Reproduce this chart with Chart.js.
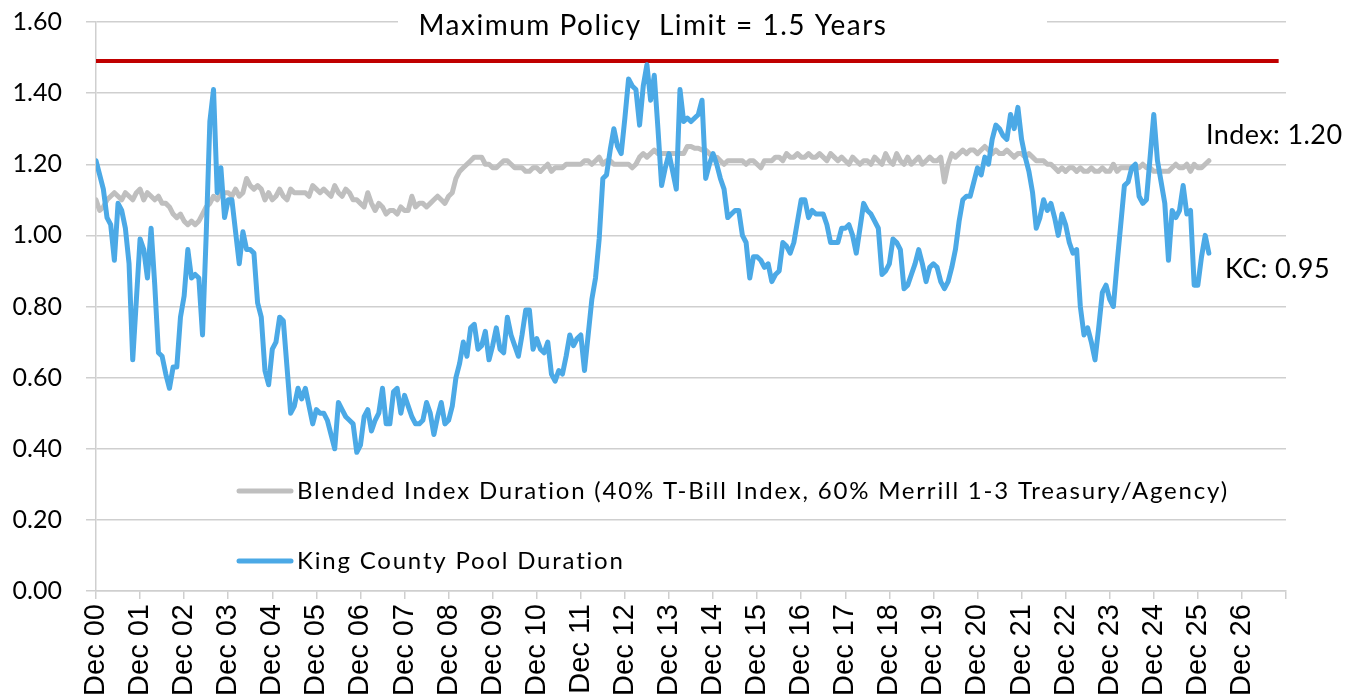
<!DOCTYPE html>
<html>
<head>
<meta charset="utf-8">
<script src="https://cdn.jsdelivr.net/npm/chart.js@4.4.1/dist/chart.umd.min.js"></script>
<style>
html,body{margin:0;padding:0;background:#ffffff;}
#wrap{width:1362px;height:698px;position:relative;}
</style>
</head>
<body>
<div id="wrap"><canvas id="c"></canvas></div>
<script>
// ---------------- data ----------------
const tickLabels = ['Dec 00','Dec 01','Dec 02','Dec 03','Dec 04','Dec 05','Dec 06','Dec 07','Dec 08','Dec 09',
  'Dec 10','Dec 11','Dec 12','Dec 13','Dec 14','Dec 15','Dec 16','Dec 17','Dec 18','Dec 19',
  'Dec 20','Dec 21','Dec 22','Dec 23','Dec 24','Dec 25','Dec 26'];

// monthly values, starting Dec 2000
const kcDuration = [
  1.21,1.17,1.13,1.05,1.03,0.93,1.09,1.07,1.02,0.92,0.65,0.82,
  0.99,0.96,0.88,1.02,0.86,0.67,0.66,0.61,0.57,0.63,0.63,0.77,
  0.83,0.96,0.88,0.89,0.88,0.72,1.00,1.32,1.41,1.12,1.19,1.05,
  1.10,1.10,1.01,0.92,1.01,0.96,0.96,0.95,0.81,0.77,0.62,0.58,
  0.68,0.70,0.77,0.76,0.63,0.50,0.52,0.57,0.54,0.57,0.52,0.47,
  0.51,0.50,0.50,0.48,0.44,0.40,0.53,0.51,0.49,0.48,0.47,0.39,
  0.41,0.49,0.51,0.45,0.48,0.50,0.57,0.47,0.47,0.56,0.57,0.50,
  0.55,0.52,0.49,0.47,0.47,0.48,0.53,0.50,0.44,0.49,0.53,0.47,
  0.48,0.52,0.60,0.64,0.70,0.66,0.74,0.75,0.68,0.69,0.73,0.65,
  0.69,0.74,0.68,0.67,0.77,0.72,0.69,0.66,0.72,0.79,0.79,0.68,
  0.71,0.68,0.67,0.70,0.61,0.59,0.62,0.61,0.66,0.72,0.69,0.71,
  0.72,0.62,0.72,0.82,0.88,0.99,1.16,1.17,1.24,1.30,1.25,1.23,
  1.33,1.44,1.42,1.41,1.31,1.42,1.48,1.38,1.45,1.30,1.14,1.19,
  1.23,1.18,1.13,1.41,1.32,1.33,1.32,1.33,1.34,1.38,1.16,1.20,
  1.23,1.20,1.16,1.13,1.05,1.06,1.07,1.07,1.00,0.98,0.88,0.94,
  0.94,0.93,0.91,0.92,0.87,0.89,0.90,0.98,0.97,0.95,0.98,1.04,
  1.10,1.10,1.05,1.07,1.06,1.06,1.06,1.03,0.98,0.98,0.98,1.02,
  1.02,1.03,1.00,0.95,1.02,1.09,1.07,1.06,1.04,1.02,0.89,0.90,
  0.92,0.99,0.98,0.96,0.85,0.86,0.89,0.92,0.96,0.92,0.87,0.91,
  0.92,0.91,0.87,0.85,0.87,0.91,0.96,1.04,1.10,1.11,1.11,1.15,
  1.19,1.17,1.22,1.20,1.27,1.31,1.30,1.28,1.27,1.34,1.30,1.36,
  1.27,1.22,1.18,1.12,1.02,1.05,1.10,1.07,1.09,1.05,1.00,1.06,
  1.03,0.98,0.95,0.96,0.80,0.72,0.74,0.70,0.65,0.74,0.84,0.86,
  0.82,0.80,0.92,1.03,1.14,1.15,1.19,1.20,1.11,1.09,1.10,1.22,
  1.34,1.21,1.15,1.09,0.93,1.07,1.05,1.07,1.14,1.06,1.07,0.86,
  0.86,0.94,1.00,0.95
];

const indexDuration = [
  1.10,1.07,1.08,1.10,1.11,1.12,1.11,1.10,1.12,1.11,1.10,1.12,
  1.13,1.10,1.12,1.11,1.10,1.11,1.09,1.09,1.08,1.06,1.05,1.06,
  1.04,1.03,1.04,1.03,1.04,1.06,1.08,1.09,1.11,1.10,1.12,1.12,
  1.12,1.11,1.13,1.11,1.12,1.16,1.14,1.13,1.14,1.13,1.10,1.12,
  1.10,1.11,1.13,1.11,1.10,1.13,1.12,1.12,1.12,1.12,1.11,1.14,
  1.13,1.12,1.13,1.12,1.11,1.14,1.12,1.11,1.13,1.12,1.10,1.10,
  1.09,1.08,1.12,1.09,1.07,1.09,1.08,1.06,1.07,1.07,1.06,1.08,
  1.07,1.07,1.11,1.08,1.09,1.09,1.08,1.09,1.10,1.11,1.10,1.09,
  1.11,1.12,1.16,1.18,1.19,1.20,1.21,1.22,1.22,1.22,1.20,1.20,
  1.19,1.19,1.20,1.21,1.21,1.20,1.19,1.19,1.19,1.18,1.18,1.19,
  1.19,1.18,1.19,1.20,1.18,1.19,1.19,1.19,1.20,1.20,1.20,1.20,
  1.20,1.21,1.21,1.20,1.21,1.22,1.20,1.21,1.21,1.20,1.20,1.20,
  1.20,1.20,1.19,1.20,1.22,1.23,1.22,1.23,1.24,1.23,1.23,1.23,
  1.23,1.23,1.23,1.23,1.23,1.25,1.25,1.245,1.245,1.24,1.24,1.23,
  1.22,1.22,1.21,1.20,1.21,1.21,1.21,1.21,1.21,1.20,1.21,1.21,
  1.20,1.19,1.21,1.21,1.21,1.22,1.22,1.21,1.23,1.22,1.22,1.23,
  1.22,1.22,1.23,1.22,1.22,1.23,1.22,1.21,1.23,1.22,1.21,1.22,
  1.21,1.20,1.22,1.21,1.20,1.21,1.21,1.20,1.22,1.21,1.20,1.23,
  1.21,1.20,1.23,1.21,1.20,1.22,1.20,1.21,1.22,1.20,1.21,1.22,
  1.21,1.21,1.22,1.15,1.20,1.23,1.22,1.23,1.24,1.23,1.24,1.24,
  1.23,1.24,1.25,1.24,1.23,1.24,1.23,1.23,1.24,1.23,1.22,1.23,
  1.23,1.22,1.23,1.22,1.21,1.21,1.21,1.20,1.20,1.19,1.18,1.19,
  1.18,1.19,1.19,1.18,1.19,1.18,1.18,1.19,1.18,1.18,1.19,1.18,
  1.18,1.20,1.18,1.19,1.19,1.19,1.19,1.19,1.19,1.20,1.19,1.19,
  1.18,1.18,1.18,1.18,1.18,1.19,1.20,1.19,1.19,1.20,1.18,1.20,
  1.19,1.19,1.20,1.21
];

const policyLimit = 1.49;          // drawn level of the policy line
const policySpan = [0, 322];        // months covered by the policy line
const seriesNames = [
  'King County Pool Duration',
  'Blended Index Duration (40% T-Bill Index, 60% Merrill 1-3 Treasury/Agency)',
  'Maximum Policy Limit'
];
const titleText = 'Maximum Policy  Limit = 1.5 Years';
const indexNote = 'Index: 1.20';
const kcNote = 'KC: 0.95';

// ---------------- styles ----------------
const GOTHIC = 'Lato, "Open Sans", sans-serif';
const ARIAL = '"Liberation Sans", Arial, sans-serif';
const BLUE = '#4BA9E6';
const GREY = '#BFBFBF';
const RED = '#C00000';
const GRID = '#cfcfcf';

const toPts = arr => arr.map((v, i) => ({ x: i, y: v }));

function spaced(c, px) { if ('letterSpacing' in c) c.letterSpacing = px + 'px'; }

const overlayPlugin = {
  id: 'overlay',
  beforeDatasetsDraw(chart) {
    const c = chart.ctx;
    c.save();
    c.fillStyle = '#ffffff';
    c.fillRect(398, 2, 649, 42);
    c.fillStyle = '#000';
    c.font = '28px ' + GOTHIC;
    spaced(c, 1.5);
    c.textAlign = 'center';
    c.textBaseline = 'alphabetic';
    c.fillText(titleText, 653, 35);
    c.restore();
  },
  afterDatasetsDraw(chart) {
    const c = chart.ctx;
    c.save();
    c.fillStyle = '#000';
    c.font = '27px ' + GOTHIC;
    c.textAlign = 'left';
    c.textBaseline = 'alphabetic';
    spaced(c, 0.4);
    c.fillText(indexNote, 1206, 144);
    c.fillText(kcNote, 1225, 278);
    // in-plot legend (order: index, then KC)
    const entries = [
      { ds: chart.data.datasets[1], y: 491 },
      { ds: chart.data.datasets[0], y: 561 }
    ];
    c.font = '24px ' + GOTHIC;
    spaced(c, 1.8);
    c.textBaseline = 'middle';
    entries.forEach(e => {
      c.strokeStyle = e.ds.borderColor;
      c.lineWidth = 5;
      c.lineCap = 'round';
      c.beginPath();
      c.moveTo(239, e.y);
      c.lineTo(291, e.y);
      c.stroke();
      c.fillText(e.ds.label, 297, e.y);
    });
    c.restore();
  }
};

function noScalePadding(s) {
  s.paddingTop = 0; s.paddingBottom = 0; s.paddingLeft = 0; s.paddingRight = 0;
}

new Chart(document.getElementById('c'), {
  type: 'line',
  data: {
    datasets: [
      { label: seriesNames[0], data: toPts(kcDuration), borderColor: BLUE, borderWidth: 5,
        pointRadius: 0, tension: 0, borderJoinStyle: 'round', borderCapStyle: 'round', fill: false },
      { label: seriesNames[1], data: toPts(indexDuration), borderColor: GREY, borderWidth: 5,
        pointRadius: 0, tension: 0, borderJoinStyle: 'round', borderCapStyle: 'round', fill: false },
      { label: seriesNames[2], data: policySpan.map(x => ({ x: x, y: policyLimit })), borderColor: RED,
        borderWidth: 4, pointRadius: 0, fill: false }
    ]
  },
  options: {
    responsive: true,
    maintainAspectRatio: false,
    animation: false,
    events: [],
    layout: { padding: { top: 22, right: 76, left: 0, bottom: 0 } },
    plugins: { legend: { display: false }, tooltip: { enabled: false }, title: { display: false } },
    scales: {
      x: {
        type: 'linear', min: 0, max: 324,
        afterFit(s) { s.height = 107; noScalePadding(s); },
        afterBuildTicks(s) { s.ticks = Array.from({ length: 28 }, (_, i) => ({ value: i * 12 })); },
        ticks: {
          autoSkip: false, minRotation: 90, maxRotation: 90, padding: 5, color: '#000',
          font: { family: ARIAL, size: 29 },
          callback: v => (tickLabels[Math.round(v / 12)] ?? '')
        },
        grid: { drawOnChartArea: false, drawTicks: true, tickLength: 8, color: GRID, lineWidth: 1.5 },
        border: { display: true, color: GRID, width: 1.5 }
      },
      y: {
        min: 0, max: 1.6,
        afterFit(s) { s.width = 96; noScalePadding(s); },
        ticks: { stepSize: 0.2, padding: 24, color: '#000', font: { family: GOTHIC, size: 25 },
          callback: v => Number(v).toFixed(2) },
        grid: { color: GRID, lineWidth: 1.5, tickLength: 10 },
        border: { display: true, color: GRID, width: 1.5 }
      }
    }
  },
  plugins: [overlayPlugin]
});
</script>
</body>
</html>
